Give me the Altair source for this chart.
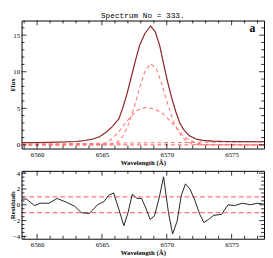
import altair as alt
import pandas as pd

# ---- data ----
wl_total = [6558.8, 6560.0, 6561.0, 6562.0, 6563.0, 6563.7, 6564.3, 6564.8, 6565.3, 6565.8,
            6566.3, 6566.65, 6566.95, 6567.25, 6567.55, 6567.9, 6568.3, 6568.75, 6569.1, 6569.45,
            6569.75, 6570.05, 6570.4, 6570.7, 6571.0, 6571.3, 6571.75, 6572.25, 6572.75, 6573.5,
            6574.25, 6575.5, 6577.5]
flux_total = [0.30, 0.32, 0.35, 0.40, 0.46, 0.60, 0.80, 1.10, 1.70, 2.50,
              3.55, 5.30, 7.10, 9.20, 11.3, 13.6, 15.2, 16.25, 15.5, 13.6,
              11.1, 8.7, 6.3, 4.5, 3.0, 2.1, 1.25, 0.80, 0.62, 0.52,
              0.47, 0.45, 0.43]

wl_narrow = [6558.8, 6565.4, 6565.8, 6566.2, 6566.64, 6567.0, 6567.5, 6567.9, 6568.3, 6568.75,
             6569.2, 6569.6, 6570.1, 6570.6, 6571.1, 6571.6, 6572.1, 6572.6, 6577.5]
flux_narrow = [0.0, 0.02, 0.1, 0.4, 1.25, 2.6, 5.2, 7.8, 10.0, 11.1,
               10.4, 8.4, 5.4, 2.8, 1.25, 0.4, 0.1, 0.02, 0.0]

wl_broad = [6558.8, 6564.3, 6564.8, 6565.3, 6565.75, 6566.3, 6566.8, 6567.24, 6567.7, 6568.26,
            6568.8, 6569.3, 6569.75, 6570.3, 6570.87, 6571.3, 6571.6, 6572.2, 6572.8, 6573.3, 6577.5]
flux_broad = [0.0, 0.01, 0.05, 0.3, 0.8, 1.8, 3.0, 3.9, 4.7, 5.1,
              5.0, 4.7, 4.2, 3.2, 2.05, 1.2, 0.8, 0.3, 0.05, 0.01, 0.0]

wl_cont = [6558.8, 6577.5]
flux_cont = [0.10, 0.45]
flux_zero = [0.0, 0.0]

wl_res = [6558.81, 6559.18, 6559.80, 6560.25, 6560.92, 6561.54, 6562.29, 6562.91, 6563.41, 6564.03,
          6564.65, 6565.15, 6565.52, 6565.90, 6566.27, 6566.69, 6567.01, 6567.34, 6567.71, 6568.06,
          6568.38, 6568.71, 6569.05, 6569.43, 6569.75, 6570.13, 6570.45, 6570.80, 6571.12, 6571.44,
          6571.79, 6572.16, 6572.54, 6572.86, 6573.23, 6573.60, 6574.23, 6574.72, 6575.22, 6575.84,
          6576.47, 6576.96, 6577.46]
res_val = [0.73, 0.73, -0.1, 0.2, 0.2, 0.8, 0.3, -0.2, -1.0, -1.1,
           0.0, 0.4, 1.2, 1.5, -0.4, -2.65, -1.0, 1.35, 0.8, 0.8,
           -0.4, -1.85, -1.4, 1.0, 3.55, -1.0, -3.7, -2.05, 1.2, 2.65,
           2.0, 0.6, -1.2, -2.25, -1.85, -1.35, -1.2, 0.0, -0.1, 0.2,
           0.0, 0.2, 0.1]
res_limits = [1.0, -1.0]

x_major = [6560, 6565, 6570, 6575]
x_minor = [v for v in range(6559, 6578) if v not in x_major]
top_y_major = [0, 5, 10, 15]
top_y_minor = [v for v in range(0, 17) if v not in top_y_major]
bot_y_major = [-4, -2, 0, 2, 4]
bot_y_minor = [v / 2 for v in range(-8, 9) if v % 4 != 0]

x_domain = [6558.8, 6577.5]
top_y_domain = [-0.5, 17.0]
bot_y_domain = [-4.3, 4.3]

W, H1, H2 = 250, 132, 70
MAJ, MIN = 5, 3

FIT_RED = "#b83c3c"
COMP = "#ff7878"
DASH = [4, 3]

xscale = alt.Scale(domain=x_domain, nice=False, zero=False)


def xenc():
    return alt.X("w:Q", scale=xscale,
                 axis=alt.Axis(values=x_major, format="d", title="Wavelength (Å)",
                               labelPadding=2, titlePadding=1))


def panel(yscale, yvals, ytitle, h, layers_data, ymajor, yminor):
    yenc = alt.Y("f:Q", scale=yscale,
                 axis=alt.Axis(values=yvals, format="d", title=ytitle, labelPadding=2,
                               titleX=-6, titleY=h / 2))
    layers = []
    for df, style in layers_data:
        mk = alt.Chart(df).mark_line(clip=True, **style)
        layers.append(mk.encode(x=xenc(), y=yenc))
    # tick marks drawn inside the frame
    for vals, ln in ((x_major, MAJ), (x_minor, MIN)):
        d = pd.DataFrame({"w": vals})
        layers.append(alt.Chart(d).mark_rule(color="black", strokeWidth=0.8).encode(
            x=xenc(), y=alt.value(h), y2=alt.value(h - ln)))
        layers.append(alt.Chart(d).mark_rule(color="black", strokeWidth=0.8).encode(
            x=xenc(), y=alt.value(0), y2=alt.value(ln)))
    for vals, ln in ((ymajor, MAJ), (yminor, MIN)):
        d = pd.DataFrame({"f": vals})
        layers.append(alt.Chart(d).mark_rule(color="black", strokeWidth=0.8).encode(
            y=yenc, x=alt.value(0), x2=alt.value(ln)))
        layers.append(alt.Chart(d).mark_rule(color="black", strokeWidth=0.8).encode(
            y=yenc, x=alt.value(W), x2=alt.value(W - ln)))
    return layers


df_total = pd.DataFrame({"w": wl_total, "f": flux_total})
df_narrow = pd.DataFrame({"w": wl_narrow, "f": flux_narrow})
df_broad = pd.DataFrame({"w": wl_broad, "f": flux_broad})
df_cont = pd.DataFrame({"w": wl_cont, "f": flux_cont})
df_zero = pd.DataFrame({"w": wl_cont, "f": flux_zero})

top_layers = panel(
    alt.Scale(domain=top_y_domain, nice=False, zero=False), top_y_major, "Flux", H1,
    [
        (df_zero, dict(color=COMP, strokeWidth=1.1, strokeDash=DASH)),
        (df_cont, dict(color=COMP, strokeWidth=1.1, strokeDash=DASH)),
        (df_broad, dict(color=COMP, strokeWidth=1.1, strokeDash=DASH)),
        (df_narrow, dict(color=COMP, strokeWidth=1.1, strokeDash=DASH)),
        (df_total, dict(color=FIT_RED, strokeWidth=1.2)),
        (df_total, dict(color="#2a0a0a", strokeWidth=0.5, opacity=0.7)),
    ],
    top_y_major, top_y_minor)

label_df = pd.DataFrame({"t": ["a"]})
top_layers.append(alt.Chart(label_df).mark_text(
    font="Liberation Serif", fontSize=12, fontWeight="bold", color="black",
    align="center", baseline="alphabetic").encode(
    text="t:N", x=alt.value(238), y=alt.value(12)))

top = alt.layer(*top_layers).properties(
    width=W, height=H1,
    title=alt.Title("Spectrum No = 333.", font="Liberation Mono", fontSize=8,
                    fontWeight="normal", offset=0, anchor="middle", frame="group",
                    color="black"))

df_res = pd.DataFrame({"w": wl_res, "f": res_val})
df_hi = pd.DataFrame({"w": wl_cont, "f": [res_limits[0]] * 2})
df_lo = pd.DataFrame({"w": wl_cont, "f": [res_limits[1]] * 2})

bot_layers = panel(
    alt.Scale(domain=bot_y_domain, nice=False, zero=False), bot_y_major, "Residuals", H2,
    [
        (df_hi, dict(color=COMP, strokeWidth=1.2, strokeDash=[5, 3])),
        (df_lo, dict(color=COMP, strokeWidth=1.2, strokeDash=[5, 3])),
        (df_res, dict(color="#202020", strokeWidth=1)),
    ],
    bot_y_major, bot_y_minor)

bottom = alt.layer(*bot_layers).properties(width=W, height=H2)

chart = alt.vconcat(top, bottom, spacing=23, bounds="flush").properties(
    autosize=alt.AutoSizeParams(type="pad"),
    padding=0,
).configure_view(stroke="black", strokeWidth=1).configure_axis(
    labelFont="Liberation Serif", labelFontSize=7, labelColor="black",
    titleFont="Liberation Serif", titleFontSize=7, titleFontWeight="bold",
    titleColor="black", ticks=False, domain=False, grid=False,
)

chart.save("out.html", embed_options={"renderer": "svg", "actions": False})
